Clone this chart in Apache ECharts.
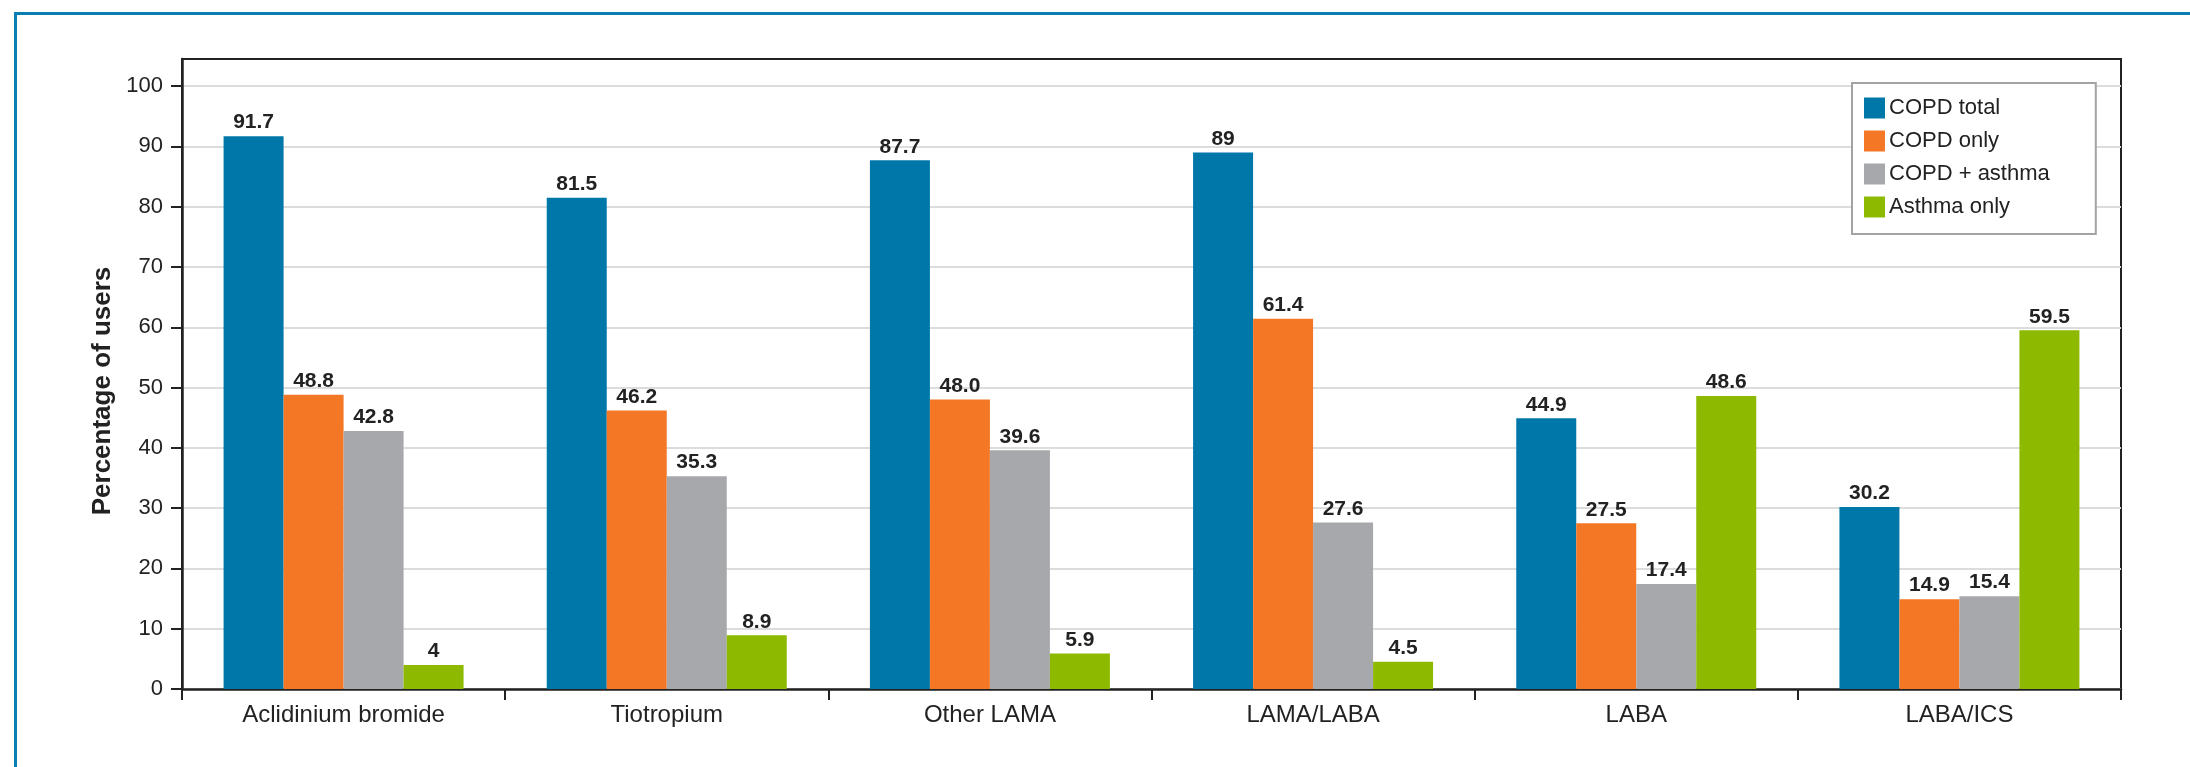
<!DOCTYPE html>
<html>
<head>
<meta charset="utf-8">
<script src="https://cdn.jsdelivr.net/npm/echarts@6/dist/echarts.min.js"></script>
<style>
    html, body { margin: 0; padding: 0; background: #fff; }
    #wrap { position: relative; width: 2190px; height: 767px; overflow: hidden; }
    #chart { width: 2190px; height: 767px; }
    #frame {
        position: absolute; left: 14px; top: 12px; right: -10px; bottom: -10px;
        border-left: 3px solid #0a7db3; border-top: 3px solid #0a7db3;
        pointer-events: none;
    }
</style>
</head>
<body>
<div id="wrap">
    <div id="chart"></div>
    <div id="frame"></div>
</div>
<script>
// data
const categories = ['Aclidinium bromide', 'Tiotropium', 'Other LAMA', 'LAMA/LABA', 'LABA', 'LABA/ICS']
const seriesNames = ['COPD total', 'COPD only', 'COPD + asthma', 'Asthma only']
const copdTotal = ['91.7', '81.5', '87.7', '89', '44.9', '30.2']
const copdOnly = ['48.8', '46.2', '48.0', '61.4', '27.5', '14.9']
const copdAsthma = ['42.8', '35.3', '39.6', '27.6', '17.4', '15.4']
const asthmaOnly = ['4', '8.9', '5.9', '4.5', '48.6', '59.5']
const yTicks = [0, 10, 20, 30, 40, 50, 60, 70, 80, 90, 100]

const colors = ['#0077a9', '#f47725', '#a7a8ab', '#8dba00']
const font = '"Liberation Sans", Arial, sans-serif'

const makeSeries = function(name, values, i) {
    return {
        name: name,
        type: 'bar',
        barWidth: 60,
        barGap: '0%',
        data: values.map(v => Number(v)),
        itemStyle: { color: colors[i] },
        label: {
            show: true,
            position: 'top',
            distance: 3,
            formatter: p => values[p.dataIndex],
            fontFamily: font,
            fontWeight: 'bold',
            fontSize: 21,
            color: '#222',
        },
    }
}

const buildOption = function() {
    const lists = [copdTotal, copdOnly, copdAsthma, asthmaOnly]
    const series = seriesNames.map((n, i) => makeSeries(n, lists[i], i))
    return {
        animation: false,
        textStyle: { fontFamily: font },
        grid: {
            left: 182, right: 69, top: 59, bottom: 78,
            show: true, borderColor: '#222', borderWidth: 2,
        },
        legend: {
            orient: 'vertical',
            left: 1852, top: 83,
            padding: [14, 46, 16, 12],
            itemWidth: 21, itemHeight: 21, itemGap: 11,
            icon: 'rect',
            borderColor: '#a3a3a3', borderWidth: 2,
            backgroundColor: '#fff',
            textStyle: { fontFamily: font, fontSize: 22, color: '#222', padding: [0, 0, 0, -1] },
            data: seriesNames,
        },
        xAxis: {
            type: 'category',
            data: categories,
            axisLine: { lineStyle: { color: '#222', width: 2.5 } },
            axisTick: { show: true, length: 11, lineStyle: { color: '#222', width: 2 } },
            axisLabel: { fontFamily: font, fontSize: 24, color: '#222', margin: 14 },
        },
        yAxis: {
            type: 'value',
            min: 0, max: 104.5, interval: 10,
            name: 'Percentage of users',
            nameLocation: 'middle',
            nameGap: 66,
            nameTextStyle: { fontFamily: font, fontWeight: 'bold', fontSize: 26, color: '#222', padding: [0, 34, 0, 0] },
            axisLine: { show: true, lineStyle: { color: '#222', width: 2.5 } },
            axisTick: { show: true, length: 11, customValues: yTicks, lineStyle: { color: '#222', width: 2 } },
            axisLabel: { fontFamily: font, fontSize: 22, color: '#222', margin: 19, customValues: yTicks },
            splitLine: { lineStyle: { color: '#dcdcdc', width: 2 } },
        },
        series: series,
    }
}

const __main = function() {
    const chart = echarts.init(document.getElementById('chart'))
    chart.setOption(buildOption())
}

__main()
</script>
</body>
</html>
